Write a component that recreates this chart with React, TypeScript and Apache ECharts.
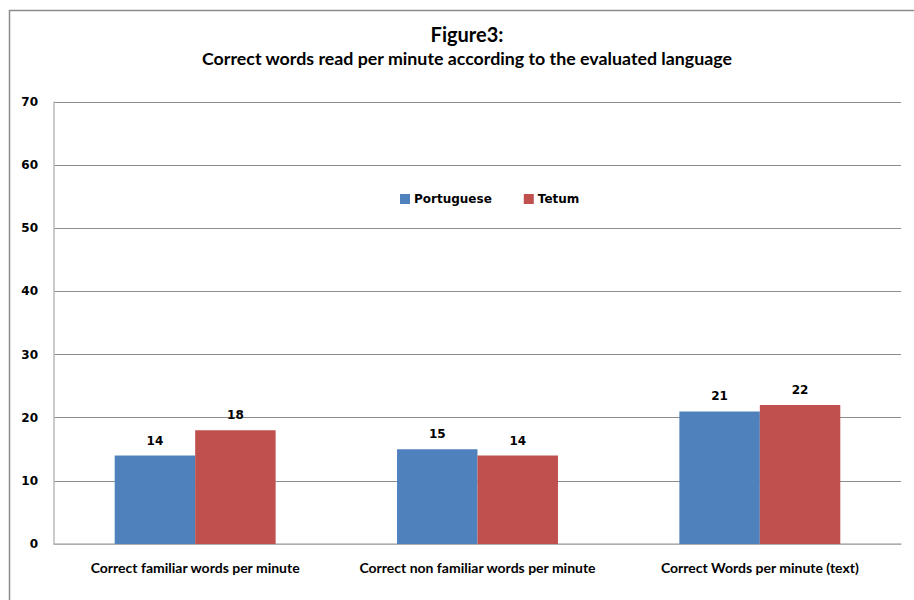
import React, { useEffect, useRef } from "react";
import * as echarts from "echarts";

const categories = [
  "Correct familiar words per minute",
  "Correct non familiar words per minute",
  "Correct Words per minute (text)",
];
const portuguese = [14, 15, 21];
const tetum = [18, 14, 22];
const seriesNames = ["Portuguese", "Tetum"];
const titleText = "Figure3:";
const subtitleText = "Correct words read per minute according to the evaluated language";

const calibriLike = "Lato, 'Open Sans', sans-serif";
const wide = "'DejaVu Sans', Verdana, sans-serif";

export default function App() {
  const ref = useRef<HTMLDivElement>(null);
  useEffect(() => {
    if (!ref.current) return;
    const chart = echarts.init(ref.current, undefined, { renderer: "svg" });
    chart.setOption({
      animation: false,
      backgroundColor: "#ffffff",
      title: [
        {
          text: titleText,
          left: 467,
          textAlign: "center",
          top: 24,
          padding: 0,
          textStyle: { fontFamily: calibriLike, fontWeight: "bold", fontSize: 20, lineHeight: 20, color: "#000" },
        },
        {
          text: subtitleText,
          left: 467,
          textAlign: "center",
          top: 49,
          padding: 0,
          textStyle: { fontFamily: calibriLike, fontWeight: "bold", fontSize: 17.8, lineHeight: 17, color: "#000" },
        },
      ],
      graphic: [
        {
          type: "rect",
          shape: { x: 9.5, y: 10.5, width: 920, height: 600 },
          style: { fill: "none", stroke: "#8c8c8c", lineWidth: 1.5 },
          silent: true,
        },
      ],
      legend: {
        data: seriesNames,
        top: 188,
        left: 395,
        itemWidth: 10,
        itemHeight: 10,
        itemGap: 32,
        icon: "rect",
        textStyle: { fontFamily: wide, fontWeight: "bold", fontSize: 12, color: "#000", padding: [0, 0, 0, -1] },
      },
      grid: { left: 54, right: 13, top: 102, bottom: 56, containLabel: false },
      xAxis: {
        type: "category",
        data: categories,
        axisLine: { lineStyle: { color: "#b8b8b8", width: 1.5 } },
        axisTick: { show: false },
        axisLabel: {
          interval: 0,
          fontFamily: calibriLike,
          fontWeight: "bold",
          fontSize: 14,
          color: "#000",
          margin: 16,
        },
      },
      yAxis: {
        type: "value",
        min: 0,
        max: 70,
        interval: 10,
        axisLine: { show: true, lineStyle: { color: "#b8b8b8", width: 1.5 } },
        axisTick: { show: false },
        splitLine: { lineStyle: { color: "#8c8c8c", width: 1 } },
        axisLabel: {
          fontFamily: wide,
          fontWeight: "bold",
          fontSize: 12,
          color: "#000",
          margin: 16,
        },
      },
      series: [
        {
          name: seriesNames[0],
          type: "bar",
          data: portuguese,
          barGap: "0%",
          barCategoryGap: "43%",
          itemStyle: { color: "#4f81bd" },
          label: {
            show: true,
            position: "top",
            distance: 9,
            fontFamily: wide,
            fontWeight: "bold",
            fontSize: 12,
            color: "#000",
          },
        },
        {
          name: seriesNames[1],
          type: "bar",
          data: tetum,
          barGap: "0%",
          barCategoryGap: "43%",
          itemStyle: { color: "#c0504d" },
          label: {
            show: true,
            position: "top",
            distance: 9,
            fontFamily: wide,
            fontWeight: "bold",
            fontSize: 12,
            color: "#000",
          },
        },
      ],
    });
    return () => chart.dispose();
  }, []);
  return (
    <div
      ref={ref}
      style={{ position: "fixed", left: 0, top: 0, width: 914, height: 600 }}
    />
  );
}
